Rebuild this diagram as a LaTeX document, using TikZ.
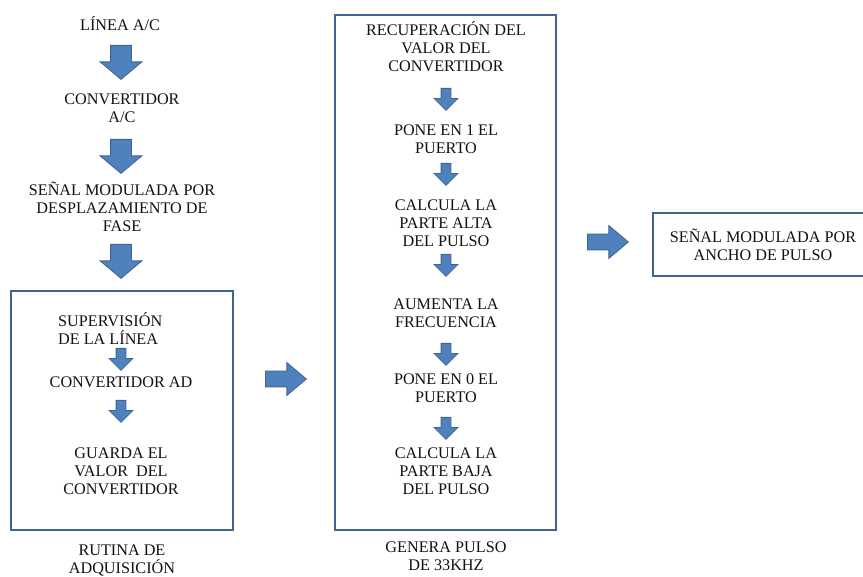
\documentclass[tikz,border=0pt]{standalone}
\usepackage{fontspec}
\setmainfont{Liberation Serif}
\usepackage{xcolor}
\definecolor{ink}{HTML}{111111}
\definecolor{arrowc}{HTML}{4F81BD}
\definecolor{edgec}{HTML}{3F6494}
\usepackage{tikz}
\usetikzlibrary{positioning,shapes.arrows}

\begin{document}
\begin{tikzpicture}[x=1pt,y=-1pt,every node/.style={font=\fontsize{16.2}{18}\selectfont,text=ink}]
\tikzstyle{txt}=[align=center,inner sep=0pt]
\tikzstyle{frame}=[draw=edgec,line width=2pt,inner sep=0pt]
\tikzstyle{barrow}=[single arrow,draw=edgec,fill=arrowc,line width=0.8pt,inner sep=0pt,single arrow head indent=0pt,anchor=tail]
\tikzstyle{bigdown}=[barrow,rotate=-90,minimum height=34pt,inner ysep=10pt,single arrow head extend=10.5pt,single arrow tip angle=100]
\tikzstyle{smalldown}=[barrow,rotate=-90,minimum height=22pt,inner ysep=4.5pt,single arrow head extend=7pt]
\tikzstyle{bigright}=[barrow,minimum height=41pt,inner ysep=7.5pt,single arrow head extend=8.5pt,single arrow tip angle=80]
\useasboundingbox (0,0) rectangle (863,577);
% columna izquierda
\node[txt] (linea) at (120,24) {LÍNEA A/C};
\node[bigdown] (f1) at (121,45) {};
\node[txt] (conv) at (122,108) {CONVERTIDOR\\A/C};
\node[bigdown] (f2) at (121,139) {};
\node[txt] (fase) at (122,207) {SEÑAL MODULADA POR\\DESPLAZAMIENTO DE\\FASE};
\node[bigdown] (f3) at (121,244) {};
% rutina de adquisicion
\node[frame,minimum width=222pt,minimum height=239pt] (adq) at (122,410.5) {};
\node[txt,align=left,anchor=west] (sup) at (58,329) {SUPERVISIÓN\\DE LA LÍNEA};
\node[smalldown] (s1) at (121,348) {};
\node[txt] (convad) at (121,382) {CONVERTIDOR AD};
\node[smalldown] (s2) at (121,400) {};
\node[txt] (guarda) at (121,471) {GUARDA EL\\VALOR~ DEL\\CONVERTIDOR};
\node[txt] (adqlbl) at (122,560) {RUTINA DE\\ADQUISICIÓN};
\node[bigright] (r1) at (265,379) {};
% genera pulso
\node[frame,minimum width=221pt,minimum height=515pt] (gen) at (445.5,272.5) {};
\node[txt] (recu) at (446,47) {RECUPERACIÓN DEL\\VALOR DEL\\CONVERTIDOR};
\node[smalldown] (m1) at (446,88) {};
\node[txt] (pone1) at (446,139) {PONE EN 1 EL\\PUERTO};
\node[smalldown] (m2) at (446,163) {};
\node[txt] (alta) at (446,223) {CALCULA LA\\PARTE ALTA\\DEL PULSO};
\node[smalldown] (m3) at (446,254) {};
\node[txt] (frec) at (446,313.5) {AUMENTA LA\\FRECUENCIA};
\node[smalldown] (m4) at (446,343) {};
\node[txt] (pone0) at (446,388.5) {PONE EN 0 EL\\PUERTO};
\node[smalldown] (m5) at (446,417) {};
\node[txt] (baja) at (446,471) {CALCULA LA\\PARTE BAJA\\DEL PULSO};
\node[txt] (genlbl) at (446,556) {GENERA PULSO\\DE 33KHZ};
\node[bigright] (r2) at (587,242) {};
% salida
\node[frame,txt,minimum width=220pt,minimum height=63pt] (pwm) at (763,244.5) {SEÑAL MODULADA POR\\ANCHO DE PULSO};
\end{tikzpicture}
\end{document}
